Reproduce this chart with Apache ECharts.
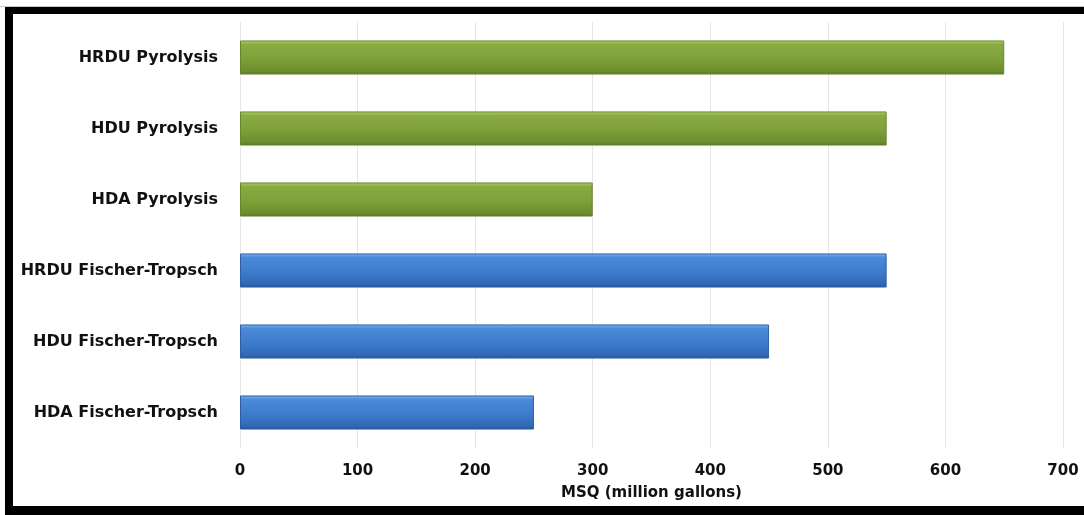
<!DOCTYPE html>
<html>
<head>
<meta charset="utf-8">
<script src="https://cdn.jsdelivr.net/npm/echarts@6/dist/echarts.min.js"></script>
<style>
  html, body { margin: 0; padding: 0; background: #ffffff; }
  #chart { width: 1084px; height: 515px; }
</style>
</head>
<body>
<div id="chart"></div>
<script>
// Categories listed bottom-to-top (category axis on y runs upward)
const categories = [
  'HDA Fischer-Tropsch',
  'HDU Fischer-Tropsch',
  'HRDU Fischer-Tropsch',
  'HDA Pyrolysis',
  'HDU Pyrolysis',
  'HRDU Pyrolysis'
];
const msqValues = [250, 450, 550, 300, 550, 650];
const processType = ['ft', 'ft', 'ft', 'pyro', 'pyro', 'pyro'];
const xTicks = { min: 0, max: 700, interval: 100 };
const axisTitle = 'MSQ (million gallons)';

const FONT = '"DejaVu Sans", "Open Sans", sans-serif';

const fills = {
  pyro: new echarts.graphic.LinearGradient(0, 0, 0, 1, [
    { offset: 0, color: '#b3cf68' },
    { offset: 0.12, color: '#8aaa42' },
    { offset: 0.55, color: '#7f9f39' },
    { offset: 0.9, color: '#6d8d2f' },
    { offset: 1, color: '#5a7626' }
  ]),
  ft: new echarts.graphic.LinearGradient(0, 0, 0, 1, [
    { offset: 0, color: '#7fb4f0' },
    { offset: 0.12, color: '#4a8ad8' },
    { offset: 0.55, color: '#3d7ccc' },
    { offset: 0.9, color: '#3168b4' },
    { offset: 1, color: '#25559a' }
  ])
};

const barData = msqValues.map((v, i) => ({
  value: v,
  itemStyle: {
    color: fills[processType[i]],
    borderColor: processType[i] === 'pyro' ? '#66862c' : '#2e5fa6',
    borderWidth: 1
  }
}));

const chart = echarts.init(document.getElementById('chart'), null, { renderer: 'canvas' });
chart.setOption({
  backgroundColor: '#ffffff',
  animation: false,
  grid: { left: 240, right: 21, top: 22, bottom: 67, containLabel: false },
  xAxis: {
    type: 'value',
    min: xTicks.min,
    max: xTicks.max,
    interval: xTicks.interval,
    name: axisTitle,
    nameLocation: 'middle',
    nameGap: 38,
    nameTextStyle: { fontFamily: FONT, fontWeight: 'bold', fontSize: 15, color: '#111111' },
    axisLine: { show: false },
    axisTick: { show: false },
    axisLabel: { fontFamily: FONT, fontWeight: 'bold', fontSize: 15, color: '#111111', margin: 16 },
    splitLine: { show: true, lineStyle: { color: '#e6e6e6', width: 1 } }
  },
  yAxis: {
    type: 'category',
    data: categories,
    axisLine: { show: false },
    axisTick: { show: false },
    axisLabel: { fontFamily: FONT, fontWeight: 'bold', fontSize: 16, color: '#111111', margin: 22 }
  },
  series: [{
    type: 'bar',
    data: barData,
    barWidth: '48%'
  }],
  graphic: [
    // frame around the chart area
    { type: 'rect', shape: { x: 0, y: 6, width: 1084, height: 1 }, style: { fill: '#c8c8c8' }, silent: true },
    { type: 'rect', shape: { x: 5, y: 7, width: 1079, height: 7 }, style: { fill: '#000000' }, silent: true },
    { type: 'rect', shape: { x: 5, y: 7, width: 8, height: 508 }, style: { fill: '#000000' }, silent: true },
    { type: 'rect', shape: { x: 5, y: 506, width: 1079, height: 9 }, style: { fill: '#000000' }, silent: true }
  ]
});
</script>
</body>
</html>
